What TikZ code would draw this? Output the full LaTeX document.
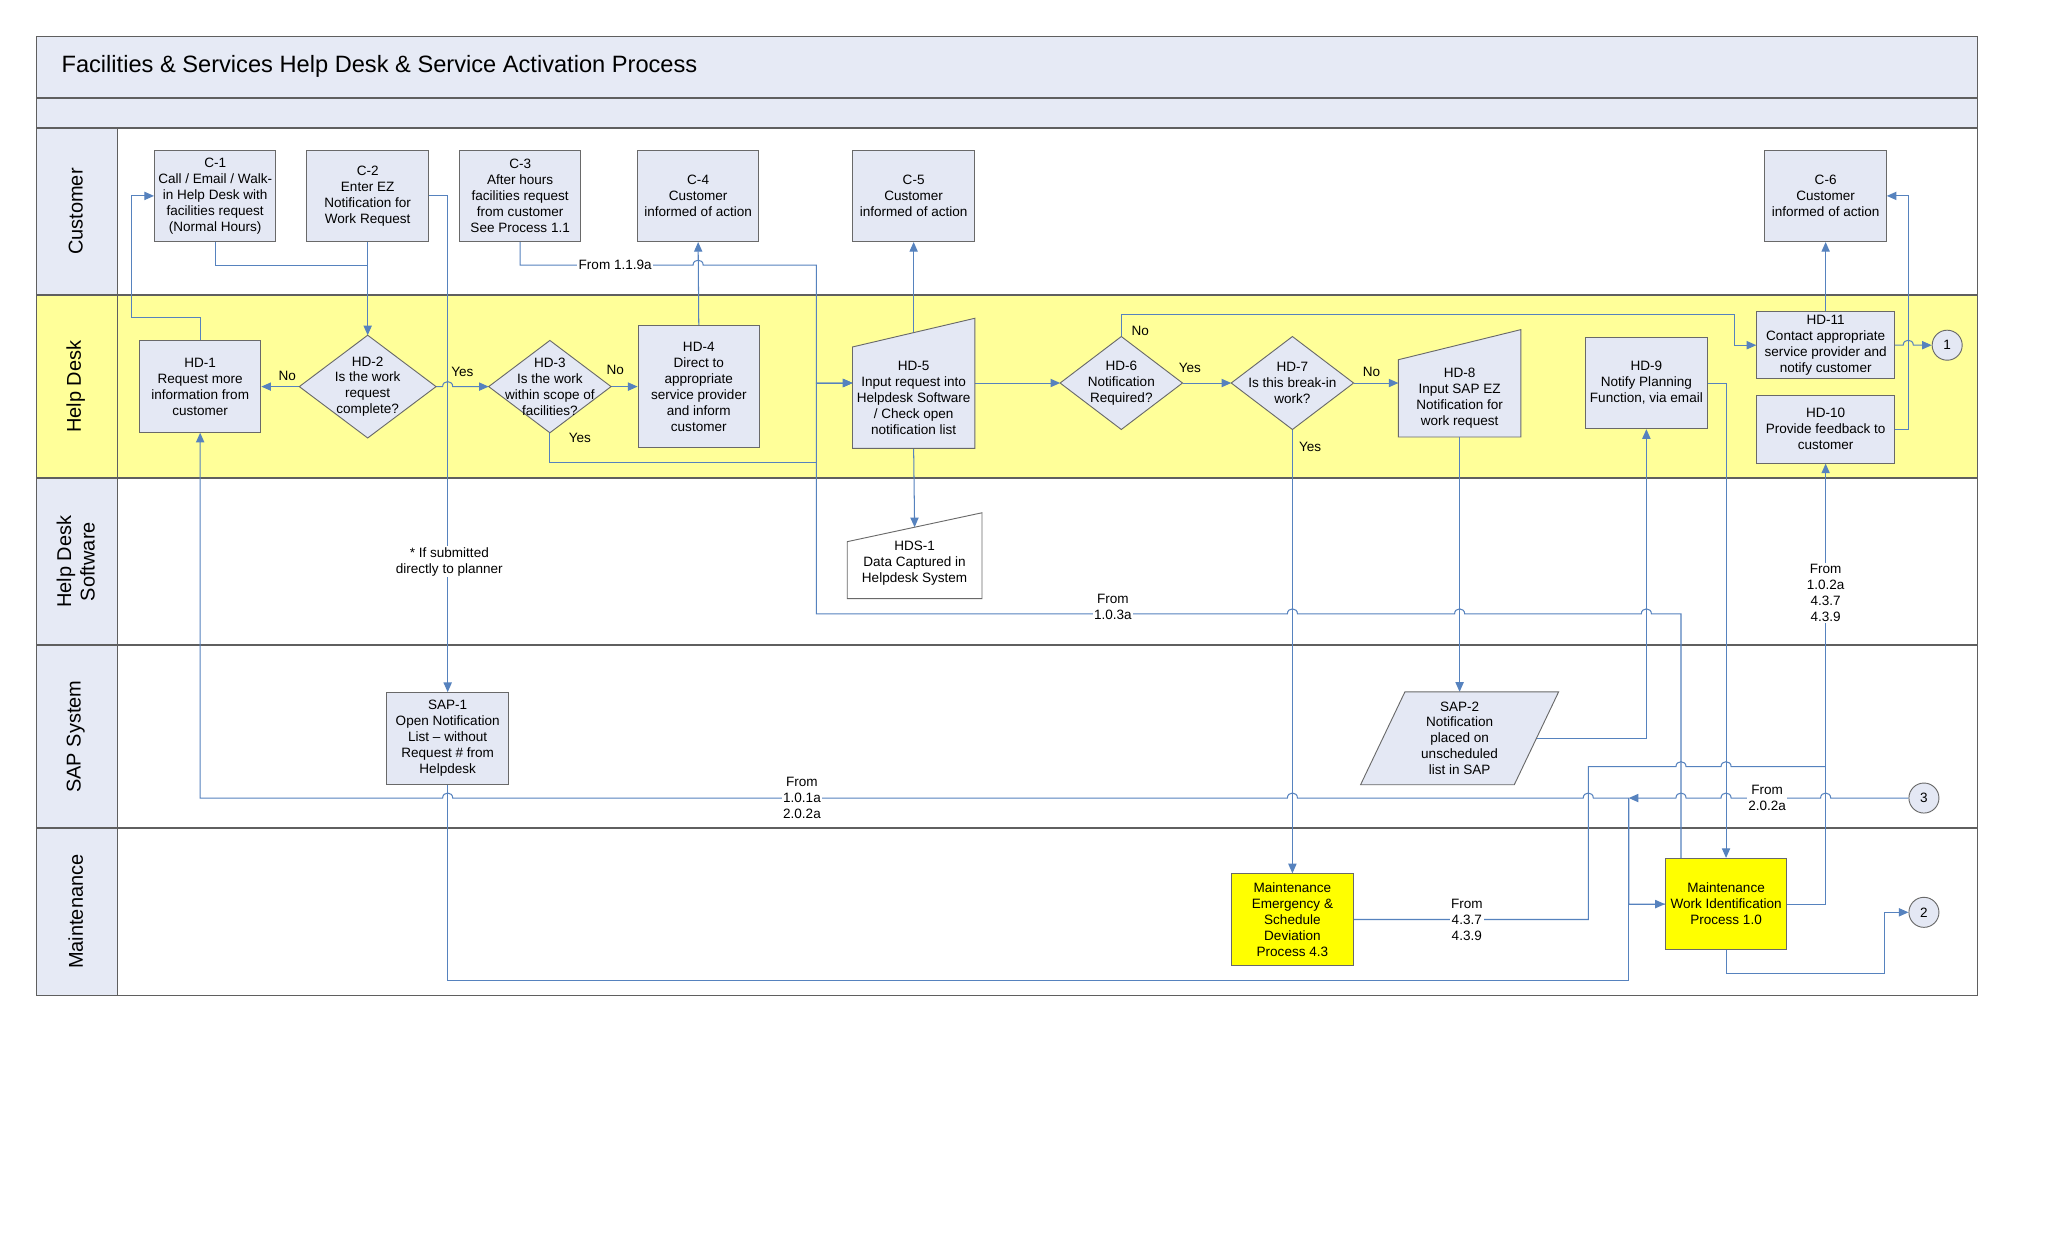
\documentclass[tikz,border=0pt]{standalone}
\usepackage{fontspec}
\setmainfont{Liberation Sans}
\usetikzlibrary{arrows.meta}

\pgfdeclarelayer{lanes}
\pgfdeclarelayer{links}
\pgfdeclarelayer{shapes}
\pgfsetlayers{lanes,links,shapes,main}

\definecolor{headfill}{RGB}{230,234,245}
\definecolor{boxfill}{RGB}{228,232,244}
\definecolor{boxline}{RGB}{105,105,105}
\definecolor{laneyellow}{RGB}{255,255,153}
\definecolor{maintyellow}{RGB}{255,255,0}
\definecolor{linkblue}{RGB}{86,130,190}
\definecolor{framegray}{RGB}{95,95,95}

% line hops (rightward / leftward)
\newcommand{\hopr}[2]{-- ([xshift=-2.2pt]#1,#2) .. controls ([xshift=-2.2pt,yshift=2.9pt]#1,#2) and ([xshift=2.2pt,yshift=2.9pt]#1,#2) .. ([xshift=2.2pt]#1,#2)}
\newcommand{\hopl}[2]{-- ([xshift=2.2pt]#1,#2) .. controls ([xshift=2.2pt,yshift=2.9pt]#1,#2) and ([xshift=-2.2pt,yshift=2.9pt]#1,#2) .. ([xshift=-2.2pt]#1,#2)}

\begin{document}
\begin{tikzpicture}[x=0.02cm, y=-0.02cm, >={Triangle[length=4.2pt,width=3.6pt]},
  every node/.style={font=\fontsize{5.9}{6.95}\selectfont},
  procbox/.style={draw=boxline, fill=boxfill, align=center, inner sep=0.5pt, minimum width=1.86cm, minimum height=1.4cm},
  maintbox/.style={procbox, fill=maintyellow},
  textbox/.style={align=center, inner sep=0pt, minimum width=1.86cm, minimum height=1.4cm},
  shapeline/.style={draw=boxline, fill=boxfill},
  frameline/.style={draw=framegray, line width=0.65pt},
  link/.style={draw=linkblue, line width=0.45pt},
  answer/.style={inner sep=0.5pt},
  fromlabel/.style={fill=white, inner sep=0.6pt, align=center},
  pageref/.style={circle, draw=boxline, fill=boxfill, minimum size=0.46cm, inner sep=0pt},
  lanelabel/.style={rotate=90, align=center, font=\fontsize{8.7}{10.2}\selectfont}]

\useasboundingbox (0,0) rectangle (1568,952);

% swimlanes
\begin{pgfonlayer}{lanes}
  \fill[white] (0,0) rectangle (1568,952);
  \fill[headfill] (28,28) rectangle (1514,98);
  \fill[headfill] (28,98) rectangle (90,762);
  \fill[laneyellow] (28,226) rectangle (1514,366);
  \draw[frameline] (28,28) rectangle (1514,762);
  \foreach \y in {75,98,226,366,494,634}
    \draw[frameline] (28,\y) -- (1514,\y);
  \draw[frameline] (90,98) -- (90,762);
\end{pgfonlayer}

\node[anchor=west, inner sep=0pt, font=\fontsize{10.3}{12}\selectfont] (title) at (46.8,50.5)
  {Facilities \& Services Help Desk \& Service Activation Process};

\node[lanelabel] (lcust) at (58,162) {Customer};
\node[lanelabel] (lhelp) at (58,296) {Help Desk};
\node[lanelabel] (lsoft) at (58,430) {Help Desk\\Software};
\node[lanelabel] (lsap) at (58,564) {SAP System};
\node[lanelabel] (lmaint) at (58,698) {Maintenance};

% customer
\node[procbox] (c1) at (164.75,150) {C-1\\Call / Email / Walk-\\in Help Desk with\\facilities request\\(Normal Hours)};
\node[procbox] (c2) at (281.5,150) {C-2\\Enter EZ\\Notification for\\Work Request};
\node[procbox] (c3) at (398.25,150) {C-3\\After hours\\facilities request\\from customer\\See Process 1.1};
\node[procbox] (c4) at (534.5,150) {C-4\\Customer\\informed of action};
\node[procbox] (c5) at (699.5,150) {C-5\\Customer\\informed of action};
\node[procbox] (c6) at (1397.75,150) {C-6\\Customer\\informed of action};

% help desk
\node[procbox] (hd1) at (153.25,296) {HD-1\\Request more\\information from\\customer};
\node[textbox, minimum width=2.08cm, minimum height=1.56cm] (hd2) at (281.5,296) {HD-2\\Is the work\\request\\complete?};
\node[textbox] (hd3) at (421,296) {HD-3\\Is the work\\within scope of\\facilities?};
\node[procbox, minimum height=1.87cm] (hd4) at (535,296) {HD-4\\Direct to\\appropriate\\service provider\\and inform\\customer};
\node[textbox, minimum height=1.54cm] (hd5) at (699.5,304.5) {HD-5\\Input request into\\Helpdesk Software\\/ Check open\\notification list};
\node[textbox, minimum height=1.41cm] (hd6) at (858.5,293.25) {HD-6\\Notification\\Required?};
\node[textbox, minimum height=1.41cm] (hd7) at (989.5,293.25) {HD-7\\Is this break-in\\work?};
\node[textbox, minimum height=1.17cm] (hd8) at (1117.5,305) {HD-8\\Input SAP EZ\\Notification for\\work request};
\node[procbox] (hd9) at (1260.5,293.25) {HD-9\\Notify Planning\\Function, via email};
\node[procbox, minimum width=2.11cm, minimum height=1.03cm] (hd11) at (1397.75,264.3) {HD-11\\Contact appropriate\\service provider and\\notify customer};
\node[procbox, minimum width=2.11cm, minimum height=1.04cm] (hd10) at (1397.75,328.6) {HD-10\\Provide feedback to\\customer};
\node[pageref] (on1) at (1490.8,264.3) {1};

% help desk software
\node[textbox, minimum width=2.05cm, minimum height=1.08cm] (hds1) at (700.25,431) {HDS-1\\Data Captured in\\Helpdesk System};
\node[fromlabel] (planner) at (344,430) {* If submitted\\directly to planner};

% sap
\node[procbox] (sap1) at (342.75,565.25) {SAP-1\\Open Notification\\List – without\\Request \# from\\Helpdesk};
\node[textbox, minimum width=3.02cm, minimum height=1.41cm] (sap2) at (1117.5,565.25) {SAP-2\\Notification\\placed on\\unscheduled\\list in SAP};

% maintenance
\node[maintbox] (mem) at (989.5,704) {Maintenance\\Emergency \&\\Schedule\\Deviation\\Process 4.3};
\node[maintbox] (mwi) at (1321.5,692.2) {Maintenance\\Work Identification\\Process 1.0};
\node[pageref] (on2) at (1473,698.5) {2};
\node[pageref] (on3) at (1473,611) {3};
\coordinate (mwiout) at (1287,657);

% outlines of decisions, manual inputs, data
\begin{pgfonlayer}{shapes}
  \foreach \d in {hd2,hd3,hd6,hd7}
    \filldraw[shapeline] (\d.north) -- (\d.east) -- (\d.south) -- (\d.west) -- cycle;
  \filldraw[shapeline] (hd5.south west) -- (hd5.north west) -- ([yshift=12.5pt]hd5.north east) -- (hd5.south east) -- cycle;
  \filldraw[shapeline] (hd8.south west) -- (hd8.north west) -- ([yshift=13.1pt]hd8.north east) -- (hd8.south east) -- cycle;
  \filldraw[draw=boxline, fill=white] (hds1.south west) -- ([yshift=-6.3pt]hds1.north west) -- ([yshift=6.3pt]hds1.north east) -- (hds1.south east) -- cycle;
  \filldraw[shapeline] (sap2.south west) -- ([xshift=-0.68cm]sap2.south east) -- (sap2.north east) -- ([xshift=0.68cm]sap2.north west) -- cycle;
\end{pgfonlayer}

% connectors
\begin{pgfonlayer}{links}
  \draw[link] (c1.south) |- (281.5,203);
  \draw[link,->] (c2.south) -- (hd2.north);
  \draw[link,->] (hd1.north) |- (101,243) |- (c1.west);
  \draw[link,->] (hd2.west) -- (hd1.east);
  \draw[link,->] (hd2.east) \hopr{342.75}{296} -- (hd3.west);
  \draw[link,->] (c2.east) -| (sap1.north);
  \draw[link,->] (hd3.east) -- (hd4.west);
  \draw[link,->] (hd3.south) |- (625,354) |- (hd5.west |- hd6.west);
  \draw[link,->] (c3.south) -- (398.25,203) \hopr{534.5}{203} -- (625,203) |- (hd5.west |- hd6.west);
  \draw[link,->] (hd4.north) -- (c4.south);
  \draw[link,->] (hd5.north) -- (c5.south);
  \draw[link,->] (hd5.south) -- (hds1.north);
  \draw[link,->] (hd5.east |- hd6.west) -- (hd6.west);
  \draw[link,->] (hd6.north) |- (1328,241) |- (hd11.west);
  \draw[link,->] (hd6.east) -- (hd7.west);
  \draw[link,->] (hd7.east) -- (hd7.east -| hd8.west);
  \draw[link,->] (hd7.south) -- (mem.north);
  \draw[link,->] (hd8.south) -- (sap2.north);
  \draw[link,->] (sap2.center) -| (hd9.south);
  \draw[link,->] (hd9.east) -| (mwi.north);
  \draw[link,->] (mwiout) -- (1287,470) \hopl{1260.5}{470} \hopl{1117.5}{470} \hopl{989.5}{470} -- (625,470) |- (hd5.west |- hd6.west);
  \draw[link,->] (mwi.east) -| (hd10.south);
  \draw[link] (mem.east) -- (1216,704) -- (1216,587) \hopr{1287}{587} \hopr{1321.5}{587} -- (1397.75,587);
  \draw[link,->] (hd10.east) -- (1461,328.6) |- (c6.east);
  \draw[link,->] (hd11.north) -- (c6.south);
  \draw[link,->] (hd11.east) \hopr{1461}{264.3} -- (on1.west);
  \draw[link,->] (on3.west) \hopl{1397.75}{611} \hopl{1321.5}{611} \hopl{1287}{611} -- (1247,611);
  \draw[link,->] (sap1.south) |- (1247,751) |- (mwi.west);
  \draw[link,->] (mwi.west) -| (1247,611) \hopl{1216}{611} \hopl{989.5}{611} \hopl{342.75}{611} -| (hd1.south);
  \draw[link,->] (mwi.south) |- (1443,745) |- (on2.west);
\end{pgfonlayer}

% answers
\node[answer] (no2) at (220,288) {No};
\node[answer] (yes2) at (354,285) {Yes};
\node[answer] (no3) at (471,283) {No};
\node[answer] (yes3) at (444,335) {Yes};
\node[answer] (no6) at (873,253) {No};
\node[answer] (yes6) at (911,282) {Yes};
\node[answer] (no7) at (1050,285) {No};
\node[answer] (yes7) at (1003,342) {Yes};

% off-process references
\node[fromlabel] (f119) at (471,203) {From 1.1.9a};
\node[fromlabel] (f103) at (852,465) {From\\1.0.3a};
\node[fromlabel] (f102) at (1397.75,454) {From\\1.0.2a\\4.3.7\\4.3.9};
\node[fromlabel] (f101) at (614,611) {From\\1.0.1a\\2.0.2a};
\node[fromlabel] (f202) at (1353,611) {From\\2.0.2a};
\node[fromlabel] (f437) at (1123,704) {From\\4.3.7\\4.3.9};

\end{tikzpicture}
\end{document}
